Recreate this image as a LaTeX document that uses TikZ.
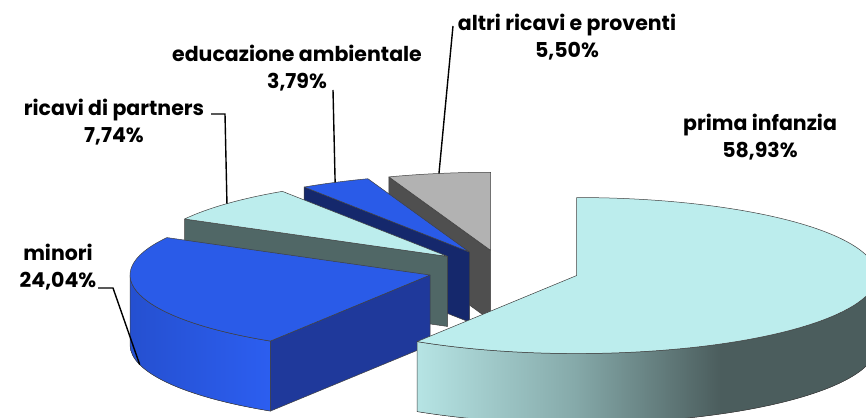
\documentclass[tikz,border=0pt]{standalone}
\usepackage{fontspec}
\setmainfont{Poppins}
\usetikzlibrary{calc}
\definecolor{topcyan}{HTML}{BCEDED}
\definecolor{cyanA}{HTML}{B6E4E4}
\definecolor{cyanB}{HTML}{86AAAA}
\definecolor{cyanC}{HTML}{4B5D5D}
\definecolor{pieblue}{HTML}{2A5BE8}
\definecolor{bluesideA}{HTML}{2550D0}
\definecolor{bluesideB}{HTML}{2C5EF0}
\definecolor{bluedark}{HTML}{1F399B}
\definecolor{navyside}{HTML}{15286C}
\definecolor{partnerside}{HTML}{506766}
\definecolor{greytop}{HTML}{B2B2B2}
\definecolor{greyside}{HTML}{4F4F4F}
\pgfdeclarehorizontalshading{primaside}{100bp}{color(0bp)=(cyanA); color(25bp)=(cyanA); color(42bp)=(cyanB); color(58bp)=(cyanC); color(75bp)=(cyanC); color(100bp)=(cyanC)}
\newcommand\slicetop[4]{% apex, start, end, colour
  \filldraw[face,fill=#4] (#1) -- ($(#1)+({300*cos(#2)},{78*sin(#2)})$)
    arc[start angle=#2,end angle=#3,x radius=300,y radius=78] -- cycle;}
\newcommand\sliceradial[3]{% apex, angle, colour
  \filldraw[face,fill=#3] (#1) -- ($(#1)+({300*cos(#2)},{78*sin(#2)})$)
    -- ++(0,-70) -- ($(#1)+(0,-70)$) -- cycle;}
\newcommand\sliceapex[2]{% name, mid angle
  \coordinate (#1) at ({503.6+76*cos(#2)},{147+20*sin(#2)});}
\begin{document}
\begin{tikzpicture}[x=1pt,y=1pt,
  face/.style={draw=black!75,line width=0.5pt,line join=round},
  lbl/.style={font=\fontsize{20.5}{27.5}\selectfont\bfseries,align=center,inner sep=0pt},
  leader/.style={draw=black,line width=1.4pt}]
\useasboundingbox (0,0) rectangle (866,417);
\clip (0,0) rectangle (866,417);
% apexes
\sliceapex{oPrima}{-16.074}
\sliceapex{oMinori}{-165.42}
\sliceapex{oPartners}{137.376}
\sliceapex{oEdu}{116.622}
\sliceapex{oAltri}{99.9}
% altri ricavi e proventi
\sliceradial{oAltri}{109.8}{greyside}
\slicetop{oAltri}{90}{109.8}{greytop}
% educazione ambientale
\sliceradial{oEdu}{123.444}{navyside}
\slicetop{oEdu}{109.8}{123.444}{pieblue}
% ricavi di partners
\sliceradial{oPartners}{151.308}{partnerside}
\slicetop{oPartners}{123.444}{151.308}{topcyan}
% minori
\filldraw[face,left color=bluesideA,right color=bluesideB]
  ($(oMinori)+(-300,0)$) arc[start angle=180,end angle=237.852,x radius=300,y radius=78]
  -- ++(0,-70) arc[start angle=237.852,end angle=180,x radius=300,y radius=78] -- cycle;
\sliceradial{oMinori}{237.852}{bluedark}
\slicetop{oMinori}{151.308}{237.852}{pieblue}
% prima infanzia
\filldraw[face,shading=primaside]
  ($(oPrima)+({300*cos(-122.148)},{78*sin(-122.148)})$) arc[start angle=-122.148,end angle=0,x radius=300,y radius=78]
  -- ++(0,-70) arc[start angle=0,end angle=-122.148,x radius=300,y radius=78] -- cycle;
\slicetop{oPrima}{-122.148}{90}{topcyan}
% label anchor points on the slices
\coordinate (eEdu) at ($(oEdu)+({300*cos(116.622)},{78*sin(116.622)})$);
\coordinate (ePartners) at ($(oPartners)+({300*cos(137.376)},{78*sin(137.376)})$);
\coordinate (eAltri) at ($(oAltri)+({300*cos(99.9)},{78*sin(99.9)})$);
\coordinate (eMinori) at ($(oMinori)+({300*cos(194.58)},{78*sin(194.58)-70})$);
% labels
\node[lbl] (tEdu) at (297,349) {educazione ambientale\\3,79\%};
\node[lbl] (tPartners) at (114,295) {ricavi di partners\\7,74\%};
\node[lbl] (tAltri) at (567,380) {altri ricavi e proventi\\5,50\%};
\node[lbl] (tPrima) at (760,280) {prima infanzia\\58,93\%};
\node[lbl] (tMinori) at (58,150) {minori\\24,04\%};
% leaders
\coordinate (kEdu) at (333,327);
\coordinate (kPartners1) at (211,303);
\coordinate (kPartners2) at (225,303);
\coordinate (kAltri) at (453,391);
\coordinate (kMinori1) at (98,129);
\coordinate (kMinori2) at (113,129);
\draw[leader] (kEdu) -- (eEdu);
\draw[leader] (kPartners1) -- (kPartners2) -- (ePartners);
\draw[leader] (kAltri) -- (eAltri);
\draw[leader] (kMinori1) -- (kMinori2) -- (eMinori);
\end{tikzpicture}
\end{document}
